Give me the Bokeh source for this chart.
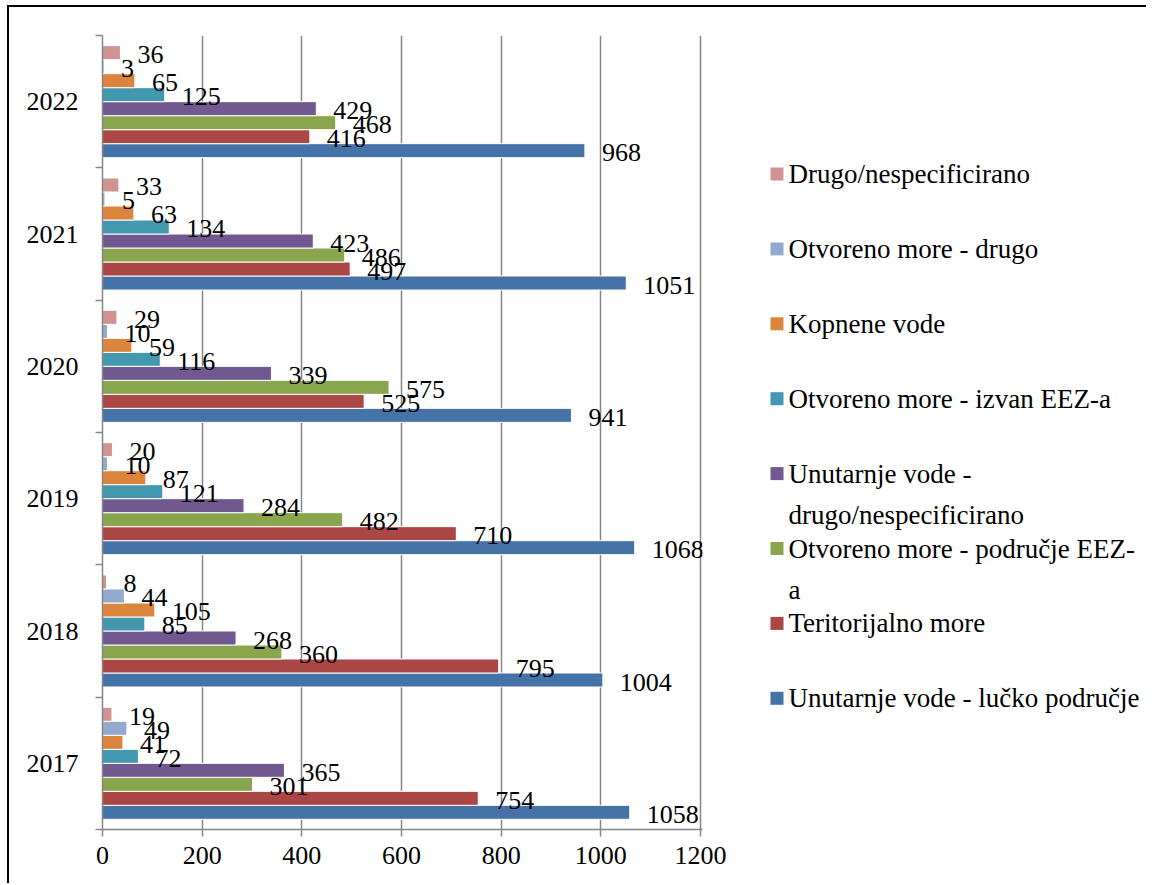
from bokeh.plotting import figure
from bokeh.layouts import row
from bokeh.models import Range1d, FixedTicker, ColumnDataSource
from bokeh.core.properties import value
from bokeh.embed import file_html
from bokeh.resources import INLINE

# ---------------- data ----------------
years = ["2017", "2018", "2019", "2020", "2021", "2022"]

lucko_podrucje = [1058, 1004, 1068, 941, 1051, 968]
teritorijalno_more = [754, 795, 710, 525, 497, 416]
podrucje_eez = [301, 360, 482, 575, 486, 468]
unutarnje_drugo = [365, 268, 284, 339, 423, 429]
izvan_eez = [72, 85, 121, 116, 134, 125]
kopnene_vode = [41, 105, 87, 59, 63, 65]
otvoreno_drugo = [49, 44, 10, 10, 5, 3]
drugo_nespec = [19, 8, 20, 29, 33, 36]

# series order from the bottom bar of each group to the top bar
series_values = [lucko_podrucje, teritorijalno_more, podrucje_eez, unutarnje_drugo,
                 izvan_eez, kopnene_vode, otvoreno_drugo, drugo_nespec]
series_labels = [
    "Unutarnje vode - lučko područje",
    "Teritorijalno more",
    "Otvoreno more - područje EEZ-\na",
    "Unutarnje vode -\ndrugo/nespecificirano",
    "Otvoreno more - izvan EEZ-a",
    "Kopnene vode",
    "Otvoreno more - drugo",
    "Drugo/nespecificirano",
]
series_colors = ["#4572A7", "#AA4643", "#89A54E", "#71588F",
                 "#4198AF", "#DB843D", "#93A9CF", "#D19392"]

x_ticks = [0, 200, 400, 600, 800, 1000, 1200]

FONT = "Liberation Serif"
FS = "26px"
LEG_FS = "27px"
GRID = "#868686"

# ---------------- main chart ----------------
n_groups = len(years)
n_series = len(series_values)
pitch = 0.1058

FRAME_H = 794
TOP = 28
BOTTOM = 54

p = figure(output_backend="svg", toolbar_location=None,
           x_range=Range1d(0, 1204), y_range=Range1d(0, n_groups),
           frame_width=600, frame_height=FRAME_H,
           min_border_left=93, min_border_top=TOP, min_border_bottom=BOTTOM, min_border_right=26,
           background_fill_color="white", border_fill_color="white")
p.outline_line_color = None

for k, vals in enumerate(series_values):
    ys = [i + 0.5 + (k - (n_series - 1) / 2) * pitch for i in range(n_groups)]
    src = ColumnDataSource(dict(y=ys, v=vals, t=[str(v) for v in vals]))
    p.hbar(y="y", left=0, right="v", height=pitch, source=src,
           fill_color=series_colors[k], line_color="white", line_width=1)
    p.text(x="v", y="y", text="t", source=src, x_offset=17, y_offset=2,
           text_font=value(FONT), text_font_size=FS, text_color="black",
           text_align="left", text_baseline="middle")

# x axis
p.xaxis.ticker = FixedTicker(ticks=x_ticks)
p.xaxis.axis_line_color = GRID
p.xaxis.axis_line_width = 1.5
p.xaxis.major_tick_line_color = GRID
p.xaxis.major_tick_line_width = 1.5
p.xaxis.major_tick_out = 7
p.xaxis.major_tick_in = 0
p.xaxis.minor_tick_line_color = None
p.xaxis.major_label_text_font = FONT
p.xaxis.major_label_text_font_size = FS
p.xaxis.major_label_text_color = "black"
p.xaxis.major_label_standoff = 10

# y axis: labels at group centres, ticks at group boundaries
centres = [i + 0.5 for i in range(n_groups)]
p.yaxis.ticker = FixedTicker(ticks=centres, minor_ticks=list(range(n_groups + 1)))
p.yaxis.major_label_overrides = {c: y for c, y in zip(centres, years)}
p.yaxis.axis_line_color = GRID
p.yaxis.axis_line_width = 1.5
p.yaxis.major_tick_line_color = None
p.yaxis.major_tick_out = 0
p.yaxis.major_tick_in = 0
p.yaxis.minor_tick_line_color = GRID
p.yaxis.minor_tick_line_width = 1.5
p.yaxis.minor_tick_out = 7
p.yaxis.minor_tick_in = 0
p.yaxis.major_label_text_font = FONT
p.yaxis.major_label_text_font_size = FS
p.yaxis.major_label_text_color = "black"
p.yaxis.major_label_standoff = 17

p.xgrid.ticker = FixedTicker(ticks=x_ticks[1:])
p.xgrid.grid_line_color = GRID
p.xgrid.grid_line_width = 1.5
p.ygrid.grid_line_color = None

# ---------------- legend panel ----------------
# frame aligned with the chart frame; coordinates measured from frame top-left
LW = 418
lg = figure(output_backend="svg", toolbar_location=None,
            frame_width=LW, frame_height=FRAME_H,
            x_range=Range1d(0, LW), y_range=Range1d(FRAME_H, 0),
            min_border_left=0, min_border_right=0,
            min_border_top=TOP, min_border_bottom=BOTTOM,
            background_fill_color="white", border_fill_color="white")
lg.outline_line_color = None
lg.axis.visible = False
lg.grid.visible = False

first_y = 138.5
step = 74.9
line_gap = 41
sq_x, sq_y, sq_c = [], [], []
tx, ty, tt = [], [], []
for j, k in enumerate(reversed(range(n_series))):
    yc = first_y + j * step
    sq_x.append(48.5)
    sq_y.append(yc)
    sq_c.append(series_colors[k])
    for m, line in enumerate(series_labels[k].split("\n")):
        tx.append(60)
        ty.append(yc + m * line_gap)
        tt.append(line)

lg.rect(x=sq_x, y=sq_y, width=13, height=13, fill_color=sq_c, line_color=None)
lg.text(x=tx, y=ty, text=tt, text_font=value(FONT), text_font_size=LEG_FS,
        text_color="black", text_align="left", text_baseline="middle")

layout = row(p, lg)
layout.styles = {"border-top": "2px solid black", "border-left": "2px solid black",
                 "margin-left": "7px", "margin-top": "5px"}

open("out.html", "w").write(file_html(layout, INLINE))
